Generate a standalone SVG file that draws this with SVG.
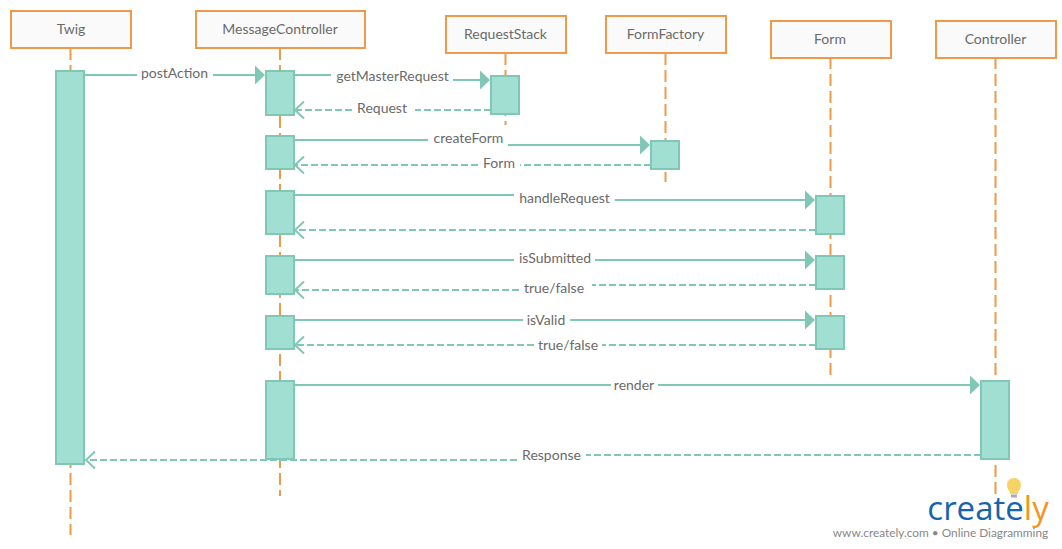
<svg xmlns="http://www.w3.org/2000/svg" width="1062" height="549" viewBox="0 0 1062 549">
<style>
text{font-family:Lato,"Noto Sans","Liberation Sans",sans-serif;fill:#6a6a6a;font-size:14px;text-anchor:middle}
.head{fill:#fafafa;stroke:#ef9a4b;stroke-width:2}
.life{stroke:#ef9a4b;stroke-width:2;stroke-dasharray:12 5;fill:none}
.act{fill:#a0dfd1;stroke:#80c8b5;stroke-width:2}
.msg{fill:none;stroke:#80c8b5;stroke-width:2}
.ret{fill:none;stroke:#80c8b5;stroke-width:2;stroke-dasharray:7 3}
.tip{fill:#80c8b5;stroke:none}
.open{fill:none;stroke:#80c8b5;stroke-width:2}
</style>
<defs>
<path id="ah" class="tip" d="M-10,-9.500L0,0L-10,9.500Z"/>
<path id="oh" class="open" d="M10,-8.500L1,0L10,8.500"/>
</defs>
<g id="lifelines">
<path class="life" d="M70.500,48V535"/>
<path class="life" d="M280,48V496"/>
<path class="life" d="M505.500,53V125"/>
<path class="life" d="M665.500,53V182"/>
<path class="life" d="M830.500,57V375"/>
<path class="life" d="M995.500,57V497"/>
</g>
<g id="node-twig"><rect class="head" x="11" y="11" width="120" height="37"/><text x="71" y="34">Twig</text></g>
<g id="node-messagecontroller"><rect class="head" x="196" y="11" width="169" height="37"/><text x="280" y="34">MessageController</text></g>
<g id="node-requeststack"><rect class="head" x="446" y="16" width="120" height="37"/><text x="505.500" y="39">RequestStack</text></g>
<g id="node-formfactory"><rect class="head" x="606" y="16" width="120" height="37"/><text x="665.500" y="39">FormFactory</text></g>
<g id="node-form"><rect class="head" x="771" y="21" width="120" height="37"/><text x="830" y="44">Form</text></g>
<g id="node-controller"><rect class="head" x="936" y="21" width="120" height="37"/><text x="995.500" y="44">Controller</text></g>
<g id="activations">
<rect class="act" x="56" y="71" width="28" height="393"/>
<rect class="act" x="266" y="71" width="28" height="44"/>
<rect class="act" x="266" y="136" width="28" height="33"/>
<rect class="act" x="266" y="191" width="28" height="43"/>
<rect class="act" x="266" y="256" width="28" height="38"/>
<rect class="act" x="266" y="316" width="28" height="33"/>
<rect class="act" x="266" y="381" width="28" height="78"/>
<rect class="act" x="491" y="76" width="28" height="38"/>
<rect class="act" x="651" y="141" width="28" height="28"/>
<rect class="act" x="816" y="196" width="28" height="38"/>
<rect class="act" x="816" y="256" width="28" height="33"/>
<rect class="act" x="816" y="316" width="28" height="33"/>
<rect class="act" x="981" y="381" width="28" height="78"/>
</g>
<g id="connectors">
<path class="msg" d="M84,75H137M213,75H257"/><use href="#ah" x="265" y="75"/>
<path class="msg" d="M294,75H331M453,80H482"/><use href="#ah" x="490" y="80"/>
<path class="ret" d="M491,110H415M352,110H296"/><use href="#oh" x="294" y="110"/>
<path class="msg" d="M294,140H428M508,145H642"/><use href="#ah" x="650" y="145"/>
<path class="ret" d="M651,165H520M478,165H296"/><use href="#oh" x="294" y="165"/>
<path class="msg" d="M294,195H514M615,200H807"/><use href="#ah" x="815" y="200"/>
<path class="ret" d="M816,230H296"/><use href="#oh" x="294" y="230"/>
<path class="msg" d="M294,260H514M595,260H807"/><use href="#ah" x="815" y="260"/>
<path class="ret" d="M816,285H592M519,290H296"/><use href="#oh" x="294" y="290"/>
<path class="msg" d="M294,320H523M570,320H807"/><use href="#ah" x="815" y="320"/>
<path class="ret" d="M816,345H602M534,345H296"/><use href="#oh" x="294" y="345"/>
<path class="msg" d="M294,385H611M658,385H972"/><use href="#ah" x="980" y="385"/>
<path class="ret" d="M981,455H586M517,460H87"/><use href="#oh" x="85" y="460"/>
</g>
<g id="labels">
<text x="174.500" y="78">postAction</text>
<text x="392.500" y="81">getMasterRequest</text>
<text x="382" y="113">Request</text>
<text x="468.500" y="143">createForm</text>
<text x="499" y="168">Form</text>
<text x="564.500" y="203">handleRequest</text>
<text x="555" y="263">isSubmitted</text>
<text x="554" y="293">true/false</text>
<text x="546" y="325">isValid</text>
<text x="568" y="350">true/false</text>
<text x="634" y="390">render</text>
<text x="551.500" y="460">Response</text>
</g>
<g id="logo">
<path d="M1014,478C1018,478 1021,481 1021,485C1021,489 1018,491 1017.500,494H1010.500C1010,491 1007,489 1007,485C1007,481 1010,478 1014,478Z" fill="#f7d264"/>
<rect x="1011" y="494.500" width="6" height="3" fill="#aaa"/>
<text x="988" y="520" style="font-family:'Open Sans','Noto Sans',sans-serif;font-size:33px;font-weight:500;fill:#1565ad"><tspan>create</tspan><tspan fill="#f7941d">ly</tspan></text>
<text x="940.500" y="537" style="font-size:11.850px;fill:#888">www.creately.com • Online Diagramming</text>
</g>
</svg>
